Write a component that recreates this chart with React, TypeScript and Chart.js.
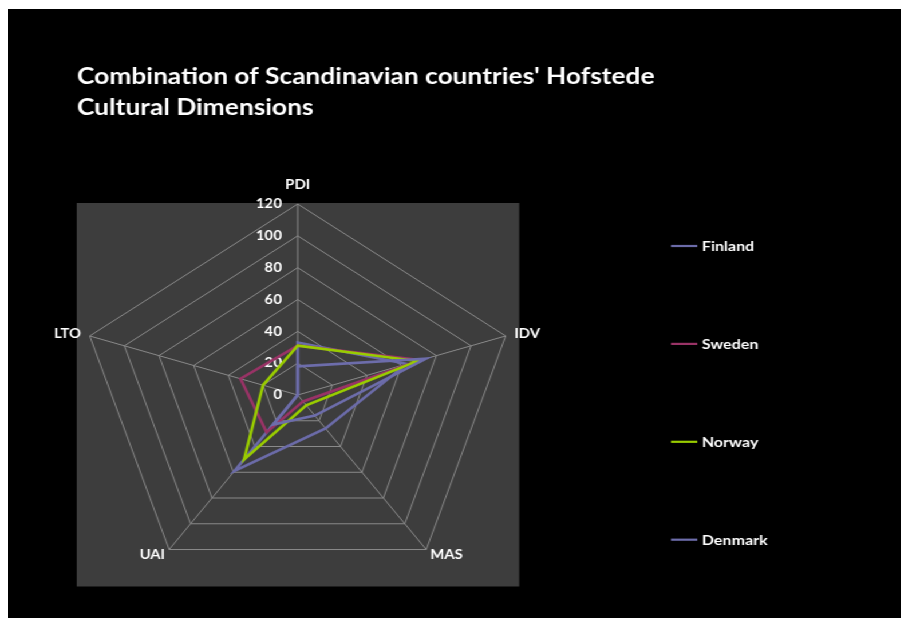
import { useEffect, useRef } from "react";
import { Chart, registerables } from "chart.js";

Chart.register(...registerables);

// Hofstede scores per dimension (LTO missing for Finland and Denmark -> 0)
const dimensions = ["PDI", "IDV", "MAS", "UAI", "LTO"];
const finland = [33, 63, 26, 59, 0];
const sweden = [31, 71, 5, 29, 33];
const norway = [31, 69, 8, 50, 20];
const denmark = [18, 74, 16, 23, 0];
const seriesNames = ["Finland", "Sweden", "Norway", "Denmark"];
const scaleMin = 0;
const scaleMax = 120;
const scaleStep = 20;
const titleLines = [
  "Combination of Scandinavian countries' Hofstede",
  "Cultural Dimensions",
];

const seriesColors = ["#6b6ba8", "#993366", "#99cc00", "#6d6dab"];
const FONT = "Lato, 'Open Sans', sans-serif";
const W = 787;
const H = 610;
const STRETCH = 1.145;

// black canvas with a grey plot square behind the radar web
const backdrop = {
  id: "backdrop",
  beforeDraw(chart: any) {
    const { ctx } = chart;
    const r = chart.scales.r;
    const R = r.drawingArea;
    ctx.save();
    ctx.fillStyle = "#000";
    ctx.fillRect(0, 0, chart.width, chart.height);
    ctx.fillStyle = "#3d3d3d";
    ctx.fillRect(r.xCenter - R - 2, r.yCenter - R - 1, 2 * R + 4.5, 2 * R + 1.5);
    ctx.restore();
  },
};

// value labels right-aligned beside the first spoke
const spokeTicks = {
  id: "spokeTicks",
  beforeDatasetsDraw(chart: any) {
    const { ctx } = chart;
    const r = chart.scales.r;
    ctx.save();
    ctx.font = `bold 13px ${FONT}`;
    ctx.fillStyle = "#ffffff";
    ctx.textAlign = "right";
    ctx.textBaseline = "middle";
    r.ticks.forEach((t: any) => {
      const p = r.getPointPositionForValue(0, t.value);
      ctx.fillText(String(t.value), p.x - 13.8, p.y);
    });
    ctx.restore();
  },
};

// two-line heading at the top left
const heading = {
  id: "heading",
  afterDraw(chart: any) {
    const { ctx } = chart;
    ctx.save();
    ctx.font = `bold 23px ${FONT}`;
    ctx.fillStyle = "#ffffff";
    ctx.textAlign = "left";
    ctx.textBaseline = "alphabetic";
    titleLines.forEach((line, i) => ctx.fillText(line, 60.3, 74.5 + i * 31.2));
    ctx.restore();
  },
};

// widely spaced legend column on the right
const sideLegend = {
  id: "sideLegend",
  afterDraw(chart: any) {
    const { ctx } = chart;
    const x0 = 579;
    const lineLen = 23;
    const y0 = 237;
    const gap = 97.9;
    ctx.save();
    ctx.font = `bold 14px ${FONT}`;
    ctx.textAlign = "left";
    ctx.textBaseline = "middle";
    chart.data.datasets.forEach((ds: any, i: number) => {
      const y = y0 + i * gap;
      ctx.strokeStyle = ds.borderColor;
      ctx.lineWidth = 2.2;
      ctx.beginPath();
      ctx.moveTo(x0, y);
      ctx.lineTo(x0 + lineLen, y);
      ctx.stroke();
      ctx.fillStyle = "#ffffff";
      ctx.fillText(ds.label, x0 + lineLen + 4, y + 0.5);
    });
    ctx.restore();
  },
};

export default function App() {
  const canvasRef = useRef<HTMLCanvasElement | null>(null);

  useEffect(() => {
    document.documentElement.style.overflow = "hidden";
    const canvas = canvasRef.current;
    if (!canvas) return;
    const values = [finland, sweden, norway, denmark];
    const chart = new Chart(canvas, {
      type: "radar",
      data: {
        labels: dimensions,
        datasets: values.map((data, i) => ({
          label: seriesNames[i],
          data,
          borderColor: seriesColors[i],
          backgroundColor: "transparent",
          borderWidth: 2.6,
          pointRadius: 0,
          fill: false,
          order: values.length - 1 - i,
        })),
      },
      options: {
        responsive: false,
        animation: false,
        devicePixelRatio: 1,
        layout: { padding: { left: 0, right: 281, top: 167, bottom: 23 } },
        plugins: {
          legend: { display: false },
          title: { display: false },
          tooltip: { enabled: false },
        },
        scales: {
          r: {
            min: scaleMin,
            max: scaleMax,
            ticks: { stepSize: scaleStep, display: false },
            grid: { color: "#8a8a8a", lineWidth: 1 },
            angleLines: { color: "#8a8a8a", lineWidth: 1 },
            pointLabels: {
              color: "#ffffff",
              font: { family: FONT, size: 13, weight: "bold", lineHeight: "0px" },
              padding: (c: any) => [19, 8, 6, 6, 8][c.index],
            },
          },
        },
      },
      plugins: [backdrop, spokeTicks, heading, sideLegend],
    });
    return () => chart.destroy();
  }, []);

  return (
    <div
      style={{
        position: "relative",
        top: 1,
        width: W,
        height: H,
        background: "#000",
        transform: `scaleX(${STRETCH})`,
        transformOrigin: "0 0",
      }}
    >
      <canvas ref={canvasRef} width={W} height={H} style={{ display: "block" }} />
    </div>
  );
}
